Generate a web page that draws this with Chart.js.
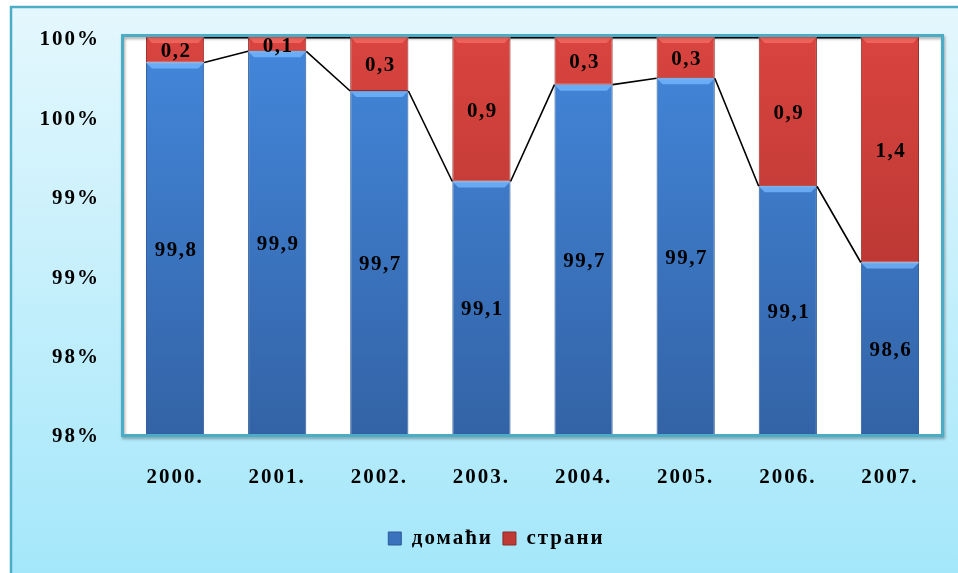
<!DOCTYPE html>
<html>
<head>
<meta charset="utf-8">
<script src="https://cdn.jsdelivr.net/npm/chart.js@4"></script>
<style>
    html, body { margin: 0; padding: 0; background: #fff; }
    #wrap { width: 958px; height: 573px; position: relative; }
</style>
</head>
<body>
<div id="wrap"><canvas id="share-chart"></canvas></div>
<script>
    const years = ["2000.", "2001.", "2002.", "2003.", "2004.", "2005.", "2006.", "2007."];
    const domestic = [99.84, 99.91, 99.66, 99.09, 99.70, 99.74, 99.06, 98.58];
    const foreign = [0.16, 0.09, 0.34, 0.91, 0.30, 0.26, 0.94, 1.42];
    const series_names = ["домаћи", "страни"];

    const FONT = "'Liberation Serif', 'Times New Roman', serif";
    const FRAME = "#4BACC6";

    // vertical gradient over the plot area for each bar series
    function barFill(top, bottom) {
        return (ctx) => {
            const area = ctx.chart.chartArea;
            if (!area) return top;
            const g = ctx.chart.ctx.createLinearGradient(0, area.top, 0, area.bottom);
            g.addColorStop(0, top);
            g.addColorStop(1, bottom);
            return g;
        };
    }

    // the original text is wide, so spread the letters a little
    const spacing = {
        id: "spacing",
        beforeLayout(chart) { chart.ctx.letterSpacing = "2px"; },
        beforeDraw(chart) { chart.ctx.letterSpacing = "2px"; },
        afterLayout(chart) {
            // legend sits centred under the plot area, not the canvas
            chart.legend.left += 26;
            chart.legend.right += 26;
        }
    };

    // page background, outer frame, white plot area
    const backdrop = {
        id: "backdrop",
        beforeDraw(chart) {
            const ctx = chart.ctx;
            const a = chart.chartArea;
            ctx.save();
            const g = ctx.createLinearGradient(0, 7, 0, chart.height);
            g.addColorStop(0, "#E4F7FD");
            g.addColorStop(1, "#A4E7FA");
            ctx.fillStyle = g;
            ctx.fillRect(11, 7, chart.width, chart.height);
            ctx.strokeStyle = FRAME;
            ctx.lineWidth = 2.5;
            ctx.strokeRect(11, 7, chart.width + 20, chart.height + 20);

            ctx.fillStyle = "#fff";
            ctx.fillRect(a.left, a.top, a.right - a.left, a.bottom - a.top);
            ctx.restore();
        },
        afterDatasetsDraw(chart) {
            const ctx = chart.ctx;
            const a = chart.chartArea;
            ctx.save();
            ctx.shadowColor = "rgba(0,0,0,0.35)";
            ctx.shadowBlur = 3;
            ctx.shadowOffsetX = 1;
            ctx.shadowOffsetY = 2;
            ctx.strokeStyle = FRAME;
            ctx.lineWidth = 3;
            ctx.strokeRect(a.left - 1.5, a.top - 1.5, a.right - a.left + 3, a.bottom - a.top + 3);
            ctx.restore();
        }
    };

    // bevel strip on top of each bar, series lines, value labels
    const decorations = {
        id: "decorations",
        afterDatasetsDraw(chart) {
            const ctx = chart.ctx;
            const a = chart.chartArea;
            const bevel = ["rgba(120,185,255,0.75)", "rgba(255,120,110,0.6)"];
            ctx.save();
            ctx.beginPath();
            ctx.rect(a.left, a.top, a.right - a.left, a.bottom - a.top);
            ctx.clip();
            chart.data.datasets.forEach((ds, d) => {
                const meta = chart.getDatasetMeta(d);
                meta.data.forEach((bar) => {
                    const l = bar.x - bar.width / 2, r = bar.x + bar.width / 2;
                    ctx.fillStyle = bevel[d];
                    ctx.beginPath();
                    ctx.moveTo(l, bar.y);
                    ctx.lineTo(r, bar.y);
                    ctx.lineTo(r - 6, bar.y + 6);
                    ctx.lineTo(l + 6, bar.y + 6);
                    ctx.closePath();
                    ctx.fill();
                });
            });
            ctx.restore();

            // series lines between the tops of neighbouring bars
            ctx.save();
            ctx.strokeStyle = "#000";
            ctx.lineWidth = 1.6;
            chart.data.datasets.forEach((ds, d) => {
                const bars = chart.getDatasetMeta(d).data;
                ctx.beginPath();
                for (let i = 0; i < bars.length - 1; i ++) {
                    ctx.moveTo(bars[i].x + bars[i].width / 2, Math.max(bars[i].y, a.top + 0.8));
                    ctx.lineTo(bars[i + 1].x - bars[i + 1].width / 2, Math.max(bars[i + 1].y, a.top + 0.8));
                }
                ctx.stroke();
            });

            ctx.fillStyle = "#000";
            ctx.font = "bold 21px " + FONT;
            ctx.letterSpacing = "1.5px";
            ctx.textAlign = "center";
            ctx.textBaseline = "middle";
            chart.data.datasets.forEach((ds, d) => {
                chart.getDatasetMeta(d).data.forEach((bar, i) => {
                    const bottom = Math.min(bar.base, a.bottom);
                    const y = (bar.y + bottom) / 2;
                    ctx.fillText(ds.data[i].toFixed(1).replace(".", ","), bar.x + 1, y + 2);
                });
            });
            ctx.restore();
        }
    };

    const config = {
        type: "bar",
        data: {
            labels: years,
            datasets: [{
                label: series_names[0],
                data: domestic,
                backgroundColor: barFill("#4387DB", "#3363A6"),
                borderColor: "#2C5A95",
                borderWidth: 1,
                borderSkipped: false,
                categoryPercentage: 1,
                barPercentage: 0.57
            },
            {
                label: series_names[1],
                data: foreign,
                backgroundColor: barFill("#D9443F", "#A8302C"),
                borderColor: "#8E2A27",
                borderWidth: 1,
                borderSkipped: false,
                categoryPercentage: 1,
                barPercentage: 0.57
            }]
        },
        options: {
            responsive: true,
            maintainAspectRatio: false,
            animation: false,
            layout: {
                padding: { top: 37, right: 17, bottom: 14, left: 0 }
            },
            plugins: {
                tooltip: { enabled: false },
                legend: {
                    position: "bottom",
                    labels: {
                        boxWidth: 13,
                        boxHeight: 13,
                        padding: 10,
                        color: "#000",
                        font: { family: FONT, size: 21, weight: "bold" },
                        generateLabels: (chart) => [
                            { text: series_names[0], fillStyle: "#3A72BE", strokeStyle: "#2C5A95", lineWidth: 1, datasetIndex: 0 },
                            { text: series_names[1], fillStyle: "#C03A35", strokeStyle: "#8E2A27", lineWidth: 1, datasetIndex: 1 }
                        ]
                    }
                }
            },
            scales: {
                x: {
                    stacked: true,
                    grid: { display: false, drawTicks: false },
                    border: { display: false },
                    ticks: {
                        padding: 31,
                        color: "#000",
                        font: { family: FONT, size: 21, weight: "bold" }
                    },
                    afterFit: (scale) => { scale.height = 84; }
                },
                y: {
                    stacked: true,
                    min: 97.5,
                    max: 100,
                    grid: { display: false, drawTicks: false },
                    border: { display: false },
                    ticks: {
                        stepSize: 0.5,
                        padding: 24,
                        labelOffset: 3,
                        color: "#000",
                        font: { family: FONT, size: 21, weight: "bold" },
                        callback: (v) => Math.round(v) + "%"
                    },
                    afterFit: (scale) => { scale.width = 124; }
                }
            }
        },
        plugins: [spacing, backdrop, decorations]
    };

    new Chart(document.getElementById("share-chart").getContext("2d"), config);
</script>
</body>
</html>
